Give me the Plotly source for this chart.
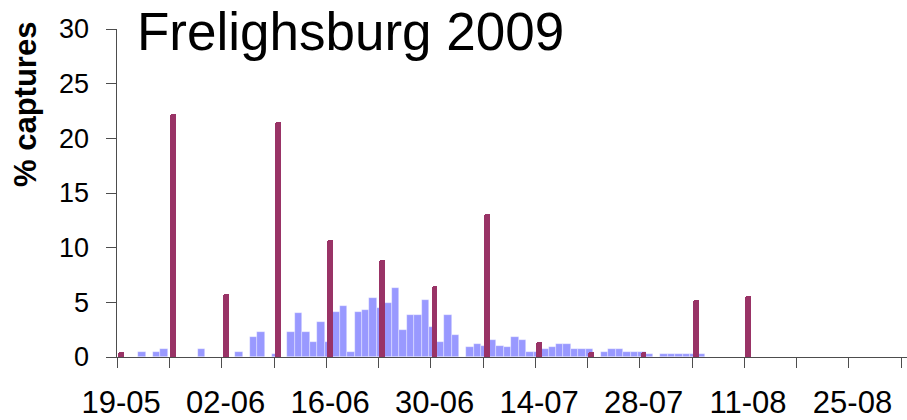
import plotly.graph_objects as go

# Weekly tick labels (every second weekly tick is labelled)
tick_labels = ["19-05", "02-06", "16-06", "30-06", "14-07", "28-07", "11-08", "25-08"]

# Daily captures (%), day 0 = 19 May 2009
daily_pct = [0, 0, 0, 0.5, 0, 0.5, 0.7, 0, 0, 0,
             0, 0.7, 0, 0, 0, 0, 0.5, 0, 1.8, 2.3,
             0, 0.3, 0, 2.3, 4.0, 2.3, 1.4, 3.2, 1.4, 4.1,
             4.7, 0.5, 4.1, 4.3, 5.4, 4.5, 4.9, 6.3, 2.5, 3.8,
             3.8, 5.2, 2.7, 1.4, 3.8, 2.0, 0, 0.9, 1.2, 1.0,
             1.6, 1.0, 0.9, 1.8, 1.6, 0.5, 0.5, 0.7, 0.9, 1.2,
             1.2, 0.7, 0.7, 0.7, 0, 0.5, 0.7, 0.7, 0.5, 0.5,
             0.5, 0.3, 0, 0.3, 0.3, 0.3, 0.3, 0.3, 0.3]

# Weekly captures (%), sampled every 7 days from 19 May
weekly_days = [0, 7, 14, 21, 28, 35, 42, 49, 56, 63, 70, 77, 84]
weekly_pct = [0.5, 22.2, 5.8, 21.5, 10.7, 8.9, 6.5, 13.1, 1.4, 0.5, 0.5, 5.2, 5.6]

W, H = 907, 420
ML, MR, MT, MB = 117, 0, 29, 63
PLOT_H = H - MT - MB
PLOT_W = W - ML - MR
PX_PER_DAY = 7.463
X0 = (ML - 117.4) / PX_PER_DAY
X1 = X0 + PLOT_W / PX_PER_DAY


def paper_x(px):
    return (px - ML) / PLOT_W


def paper_y(py):
    return (H - MB - py) / PLOT_H


AXIS_COL = "#4d4d4d"
FONT = "Liberation Sans, Arial, sans-serif"

fig = go.Figure()

fig.add_trace(go.Bar(
    x=[d + 0.27 for d in range(len(daily_pct))],
    y=daily_pct,
    width=1.0,
    marker=dict(color="#9999FF", line=dict(color="rgba(255,255,255,0.55)", width=0.6)),
    showlegend=False,
    hoverinfo="skip",
))

fig.add_trace(go.Bar(
    x=[d + 0.5 for d in weekly_days],
    y=weekly_pct,
    width=0.78,
    marker=dict(color="#993366", line=dict(width=0), cornerradius=2),
    showlegend=False,
    hoverinfo="skip",
))

fig.update_layout(
    width=W, height=H,
    margin=dict(l=ML, r=MR, t=MT, b=MB, pad=0, autoexpand=False),
    paper_bgcolor="white", plot_bgcolor="white",
    barmode="overlay",
    bargap=0,
    font=dict(family=FONT, color="black"),
    xaxis=dict(
        range=[X0, X1],
        automargin=False,
        showgrid=False, zeroline=False,
        showline=True, linecolor=AXIS_COL, linewidth=1.3,
        tickmode="array",
        tickvals=[0.5 + 14 * i for i in range(len(tick_labels))],
        ticktext=tick_labels,
        ticks="",
        tickfont=dict(size=31, family=FONT, color="black"),
        ticklabelstandoff=18,
        minor=dict(
            tickmode="array",
            tickvals=[7 * i for i in range(16)],
            ticks="outside", ticklen=10, tickwidth=1.3, tickcolor=AXIS_COL,
            showgrid=False,
        ),
        fixedrange=True,
    ),
    yaxis=dict(
        range=[0, 30],
        automargin=False,
        showgrid=False, zeroline=False,
        showline=True, linecolor=AXIS_COL, linewidth=1.3,
        tickmode="array", tickvals=[0, 5, 10, 15, 20, 25, 30],
        ticks="outside", ticklen=9.5, tickwidth=1.3, tickcolor=AXIS_COL,
        tickfont=dict(size=27, family=FONT, color="black"),
        ticklabelstandoff=12,
        fixedrange=True,
    ),
    annotations=[
        dict(
            text="Frelighsburg 2009",
            xref="paper", yref="paper",
            x=paper_x(135), y=paper_y(0),
            xanchor="left", yanchor="top",
            showarrow=False,
            font=dict(size=53, family=FONT, color="black"),
        ),
        dict(
            text="<b>% captures</b>",
            xref="paper", yref="paper",
            x=paper_x(25), y=paper_y(105),
            xanchor="center", yanchor="middle",
            textangle=-90,
            showarrow=False,
            font=dict(size=31, family=FONT, color="black"),
        ),
    ],
)

fig.write_html("out.html")
